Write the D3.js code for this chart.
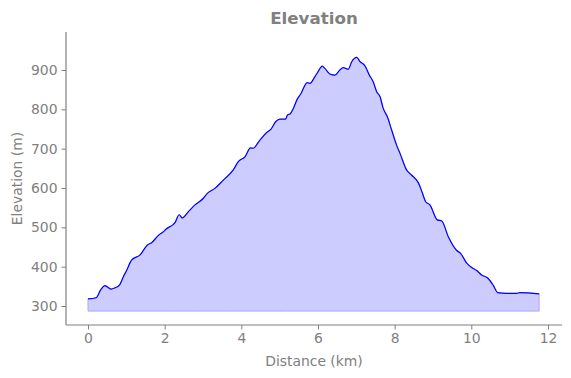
<!DOCTYPE html>
<html>
<head>
<meta charset="utf-8">
<script src="https://cdn.jsdelivr.net/npm/d3@7"></script>
<style>
  html, body { margin: 0; padding: 0; background: #fff; }
  text { font-family: "DejaVu Sans", sans-serif; }
</style>
</head>
<body>
<svg id="chart" width="571" height="378"></svg>
<script>
const distanceKm = [0, 0.21, 0.33, 0.44, 0.6, 0.7, 0.82, 0.92, 1.01, 1.14, 1.36, 1.55, 1.66, 1.84, 1.97, 2.03, 2.27, 2.38, 2.46, 2.62, 2.79, 3.01, 3.10, 3.31, 3.53, 3.79, 3.92, 4.10, 4.24, 4.31, 4.47, 4.66, 4.77, 4.90, 5.01, 5.15, 5.21, 5.27, 5.36, 5.46, 5.55, 5.72, 5.79, 5.92, 6.01, 6.11, 6.18, 6.31, 6.44, 6.57, 6.66, 6.79, 6.88, 7.01, 7.10, 7.23, 7.34, 7.44, 7.53, 7.62, 7.70, 7.81, 7.92, 8.05, 8.14, 8.31, 8.44, 8.62, 8.71, 8.81, 8.92, 9.11, 9.23, 9.40, 9.62, 9.72, 9.88, 10.01, 10.14, 10.27, 10.44, 10.57, 10.69, 10.92, 11.18, 11.27, 11.77];
const elevationM = [318, 321, 341, 352, 343, 346, 353, 374, 391, 417, 430, 455, 461, 480, 489, 495, 512, 532, 524, 540, 557, 574, 585, 599, 620, 646, 667, 680, 702, 701, 720, 741, 749, 769, 775, 775, 786, 788, 803, 826, 839, 868, 866, 883, 897, 910, 904, 890, 887, 900, 906, 902, 921, 932, 921, 910, 887, 870, 845, 832, 803, 781, 748, 709, 688, 646, 633, 613, 591, 565, 557, 519, 516, 476, 441, 434, 409, 398, 390, 379, 370, 353, 334, 332, 332, 334, 331];
const fillBase = 287;
const xTicks = [0, 2, 4, 6, 8, 10, 12];
const yTicks = [300, 400, 500, 600, 700, 800, 900];

const data = distanceKm.map((d, i) => ({ d, e: elevationM[i] }));
const svg = d3.select("#chart");
const gray = "#808080";
const L = 66, R = 562, T = 32, B = 325;

const x = d3.scaleLinear().domain([-0.574, 12.366]).range([L, R]);
const y = d3.scaleLinear().domain([251.7, 996.6]).range([B, T]);

svg.append("path").datum(data)
  .attr("d", d3.area().x(p => x(p.d)).y0(y(fillBase)).y1(p => y(p.e)).curve(d3.curveMonotoneX))
  .attr("fill", "#ccccff").attr("stroke", "#aaaaff").attr("stroke-width", 1);

svg.append("path").datum(data)
  .attr("d", d3.line().x(p => x(p.d)).y(p => y(p.e)).curve(d3.curveMonotoneX))
  .attr("fill", "none").attr("stroke", "#0000ff").attr("stroke-width", 1.2)
  .attr("stroke-linejoin", "round");

const xa = svg.append("g").attr("transform", `translate(0,${B})`)
  .call(d3.axisBottom(x).tickValues(xTicks).tickSize(4.5).tickPadding(4).tickFormat(d3.format("d")));
const ya = svg.append("g").attr("transform", `translate(${L},0)`)
  .call(d3.axisLeft(y).tickValues(yTicks).tickSize(4.5).tickPadding(4).tickFormat(d3.format("d")));
[xa, ya].forEach(a => {
  a.select(".domain").attr("stroke", gray).attr("stroke-width", 1.2);
  a.selectAll(".tick line").attr("stroke", gray);
  a.selectAll(".tick text").attr("fill", gray).style("font-size", "13.9px").style("font-family", "DejaVu Sans");
});
xa.select(".domain").attr("d", `M${L},0H${R}`);
ya.select(".domain").attr("d", `M0,${T}V${B}`);

svg.append("text").attr("x", (L + R) / 2).attr("y", 24).attr("text-anchor", "middle")
  .attr("fill", gray).style("font-size", "16.7px").style("font-weight", "bold").text("Elevation");
svg.append("text").attr("x", (L + R) / 2).attr("y", 366).attr("text-anchor", "middle")
  .attr("fill", gray).style("font-size", "13.9px").text("Distance (km)");
svg.append("text").attr("transform", `translate(22,${(T + B) / 2}) rotate(-90)`).attr("text-anchor", "middle")
  .attr("fill", gray).style("font-size", "13.9px").text("Elevation (m)");
</script>
</body>
</html>
